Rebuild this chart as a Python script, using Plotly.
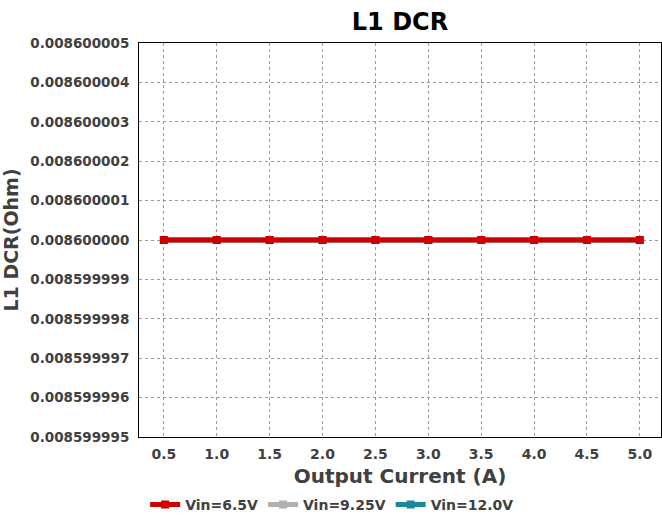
import plotly.graph_objects as go

output_current = [0.5, 1.0, 1.5, 2.0, 2.5, 3.0, 3.5, 4.0, 4.5, 5.0]
dcr_vin_6_5 = [0.0086] * 10
dcr_vin_9_25 = [0.0086] * 10
dcr_vin_12_0 = [0.0086] * 10

y_tick_vals = [0.008599995, 0.008599996, 0.008599997, 0.008599998, 0.008599999,
               0.008600000, 0.008600001, 0.008600002, 0.008600003, 0.008600004, 0.008600005]
y_tick_text = ["0.008599995", "0.008599996", "0.008599997", "0.008599998", "0.008599999",
               "0.008600000", "0.008600001", "0.008600002", "0.008600003", "0.008600004", "0.008600005"]
x_tick_vals = [0.5, 1.0, 1.5, 2.0, 2.5, 3.0, 3.5, 4.0, 4.5, 5.0]
x_tick_text = ["0.5", "1.0", "1.5", "2.0", "2.5", "3.0", "3.5", "4.0", "4.5", "5.0"]

series = [
    ("Vin=12.0V", dcr_vin_12_0, "#1a8a9a", 3),
    ("Vin=9.25V", dcr_vin_9_25, "#b0b0b0", 2),
    ("Vin=6.5V", dcr_vin_6_5, "#cc0000", 1),
]

font_family = "DejaVu Sans"
fig = go.Figure()
for name, ys, color, rank in series:
    fig.add_trace(go.Scatter(
        x=output_current, y=ys, name="<b>%s</b>" % name, mode="lines+markers",
        line=dict(color=color, width=5),
        marker=dict(symbol="square", size=8, color=color),
        legendrank=rank,
    ))

fig.update_layout(
    width=662, height=515,
    paper_bgcolor="white", plot_bgcolor="white",
    margin=dict(l=139, r=1, t=43, b=78, autoexpand=False),
    title=dict(text="<b>L1 DCR</b>", x=0.5, xanchor="center", xref="paper",
               y=1 - 22 / 515, yanchor="middle",
               font=dict(family=font_family, size=24, color="black")),
    font=dict(family=font_family, color="#404040"),
    showlegend=True,
    legend=dict(orientation="h", x=0.37, xanchor="center",
                y=-0.1726, yanchor="middle",
                font=dict(family=font_family, size=14, color="#404040"),
                itemwidth=30, tracegroupgap=0),
)
fig.update_xaxes(
    range=[0.265, 5.2], automargin=False,
    tickvals=x_tick_vals, ticktext=["<b>%s</b>" % t for t in x_tick_text],
    tickfont=dict(family=font_family, size=14, color="#404040"),
    ticklabelstandoff=4,
    title=dict(text="<b>Output Current (A)</b>", font=dict(family=font_family, size=20, color="#404040"), standoff=8),
    showline=True, linecolor="black", linewidth=1, mirror=True,
    showgrid=True, gridcolor="#999999", griddash="dot", gridwidth=1,
    zeroline=False, ticks="",
)
fig.update_yaxes(
    range=[0.008599995, 0.008600005], automargin=False,
    tickvals=y_tick_vals, ticktext=["<b>%s</b>" % t for t in y_tick_text],
    tickfont=dict(family=font_family, size=13.5, color="#404040"),
    ticklabelstandoff=6,
    title=dict(text="<b>L1 DCR(Ohm)</b>", font=dict(family=font_family, size=19, color="#404040"), standoff=6),
    showline=True, linecolor="black", linewidth=1, mirror=True,
    showgrid=True, gridcolor="#999999", griddash="dot", gridwidth=1,
    zeroline=False, ticks="",
)
fig.write_html("out.html", config={"displayModeBar": False},
               post_script="document.body.style.margin='0';document.body.style.overflow='hidden';")
